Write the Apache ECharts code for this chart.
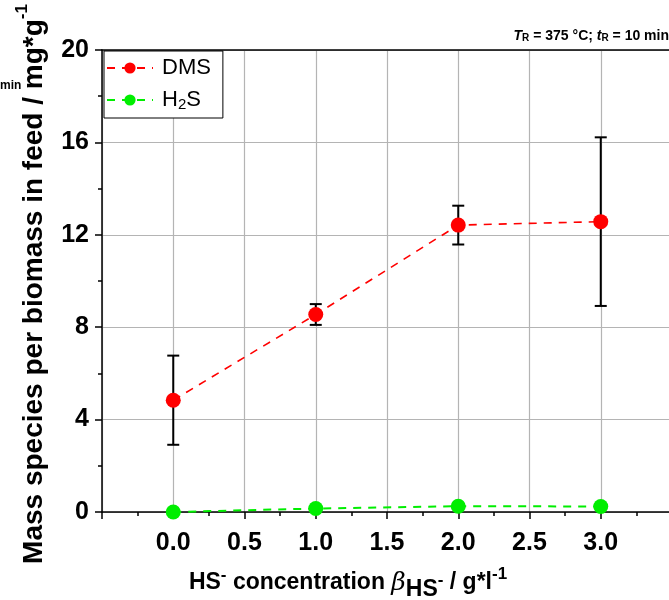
<!DOCTYPE html>
<html><head><meta charset="utf-8">
<script src="https://cdn.jsdelivr.net/npm/echarts@6/dist/echarts.min.js"></script>
<style>html,body{margin:0;padding:0;background:#fff;overflow:hidden}#c{width:675px;height:600px}</style>
</head><body><div id="c"></div>
<script>
const xValues = [0.0, 1.0, 2.0, 3.0];
const dmsValues = [4.84, 8.55, 12.42, 12.57];
const dmsErrors = [1.93, 0.45, 0.84, 3.65];
const h2sValues = [0.0, 0.15, 0.25, 0.24];
const xTickLabels = ['0.0', '0.5', '1.0', '1.5', '2.0', '2.5', '3.0'];
const yTickLabels = ['0', '4', '8', '12', '16', '20'];

const chart = echarts.init(document.getElementById('c'), null, {renderer: 'canvas'});
const F = 'Liberation Sans, Arial, sans-serif';

const errData = xValues.map((x, i) => [x, dmsValues[i] - dmsErrors[i], dmsValues[i] + dmsErrors[i]]);

const B = (size, extra) => Object.assign({fontFamily: F, fontWeight: 'bold', fontSize: size, fill: '#000', lineHeight: 28, verticalAlign: 'middle'}, extra || {});

chart.setOption({
  animation: false,
  backgroundColor: '#fff',
  grid: {left: 102, top: 50, right: 0, bottom: 88, containLabel: false},
  xAxis: [{
    type: 'value', min: -0.5, max: 3.5, interval: 0.5,
    axisLine: {show: true, onZero: false, lineStyle: {color: '#000', width: 1.5}},
    axisTick: {show: true, inside: false, length: 7, lineStyle: {color: '#000', width: 1.5}},
    minorTick: {show: true, splitNumber: 2, length: 4, lineStyle: {color: '#000', width: 1.5}},
    splitLine: {show: true, lineStyle: {color: '#b4b4b4', width: 1.2}},
    axisLabel: {
      margin: 19, color: '#000', fontFamily: F, fontWeight: 'bold', fontSize: 25,
      formatter: v => { const s = v.toFixed(1); return xTickLabels.indexOf(s) >= 0 ? s : ''; }
    }
  }, {
    type: 'value', position: 'top', min: -0.5, max: 3.5,
    axisLine: {show: true, onZero: false, lineStyle: {color: '#000', width: 1.5}},
    axisTick: {show: false}, axisLabel: {show: false}, splitLine: {show: false}
  }],
  yAxis: {
    type: 'value', min: 0, max: 20, interval: 4,
    axisLine: {show: true, onZero: false, lineStyle: {color: '#000', width: 1.5}},
    axisTick: {show: true, inside: false, length: 7, lineStyle: {color: '#000', width: 1.5}},
    minorTick: {show: true, splitNumber: 2, length: 4, lineStyle: {color: '#000', width: 1.5}},
    splitLine: {show: true, lineStyle: {color: '#b4b4b4', width: 1.2}},
    axisLabel: {
      margin: 13, color: '#000', fontFamily: F, fontWeight: 'bold', fontSize: 25,
      formatter: v => { const s = String(v); return yTickLabels.indexOf(s) >= 0 ? s : ''; }
    }
  },
  legend: {
    orient: 'vertical', left: 104, top: 51,
    backgroundColor: '#fff', borderColor: '#000', borderWidth: 1, borderRadius: 0,
    padding: [6, 12, 6, 2], itemGap: 8, itemWidth: 46, itemHeight: 14,
    data: ['DMS', 'H2S'],
    formatter: n => n === 'H2S' ? '{n|H}{s|2}{n|S}' : '{n|DMS}',
    textStyle: {
      color: '#000', fontFamily: F, fontSize: 22, padding: [0, 0, 0, 4],
      rich: {
        n: {fontFamily: F, fontSize: 22, color: '#000', lineHeight: 24},
        s: {fontFamily: F, fontSize: 15, color: '#000', verticalAlign: 'bottom', lineHeight: 24, padding: [10, 0, 0, 0]}
      }
    }
  },
  series: [{
    name: 'errDMS', type: 'custom', z: 1, silent: true,
    data: errData,
    renderItem: (params, api) => {
      const x = api.value(0);
      const lo = api.coord([x, api.value(1)]);
      const hi = api.coord([x, api.value(2)]);
      const w = 6;
      const st = {stroke: '#000', lineWidth: 2};
      return {type: 'group', children: [
        {type: 'line', shape: {x1: lo[0], y1: lo[1], x2: hi[0], y2: hi[1]}, style: st},
        {type: 'line', shape: {x1: lo[0] - w, y1: lo[1], x2: lo[0] + w, y2: lo[1]}, style: st},
        {type: 'line', shape: {x1: hi[0] - w, y1: hi[1], x2: hi[0] + w, y2: hi[1]}, style: st}
      ]};
    }
  }, {
    name: 'DMS', type: 'line', z: 3,
    data: xValues.map((x, i) => [x, dmsValues[i]]),
    symbol: 'circle', symbolSize: 15,
    itemStyle: {color: '#ff0000'},
    lineStyle: {color: '#ff0000', width: 1.6, type: [8, 7]}
  }, {
    name: 'H2S', type: 'line', z: 3,
    data: xValues.map((x, i) => [x, h2sValues[i]]),
    symbol: 'circle', symbolSize: 15,
    itemStyle: {color: '#00ee00'},
    lineStyle: {color: '#00ee00', width: 2, type: [8, 7]}
  }],
  graphic: [{
    type: 'text', x: 31, y: 284, rotation: Math.PI / 2,
    style: {
      text: '{b|Mass species per biomass in feed / mg*g}{sp|-1}',
      align: 'center', verticalAlign: 'middle',
      rich: {
        b: {fontFamily: F, fontWeight: 'bold', fontSize: 28, fill: '#000', lineHeight: 34, verticalAlign: 'bottom'},
        sp: {fontFamily: F, fontWeight: 'bold', fontSize: 17, fill: '#000', lineHeight: 34, verticalAlign: 'top'}
      }
    }
  }, {
    type: 'text', x: 0, y: 80,
    style: {text: 'min', fontFamily: F, fontWeight: 'bold', fontSize: 12, fill: '#000'}
  }, {
    type: 'text', x: 348, y: 583,
    style: {
      text: '{b|HS}{sp|-}{b| concentration }{be|β}{sb|HS}{sp2|-}{b| / g*l}{sp1|-1}',
      align: 'center', verticalAlign: 'middle',
      rich: {
        b: B(23),
        be: {fontFamily: 'DejaVu Serif, serif', fontStyle: 'italic', fontSize: 25, fill: '#000', lineHeight: 28, verticalAlign: 'middle'},
        sb: B(23, {padding: [14, 0, 0, 0]}),
        sp: B(17, {padding: [0, 0, 16, 0]}),
        sp2: B(17, {padding: [0, 0, 6, 0]}),
        sp1: B(17, {padding: [0, 0, 18, 0]})
      }
    }
  }, {
    type: 'text', right: 6, top: 29,
    style: {
      text: '{i|T}{s|R}{n| = 375 °C; }{i|t}{s|R}{n| = 10 min}',
      rich: {
        i: {fontFamily: F, fontWeight: 'bold', fontStyle: 'italic', fontSize: 14, fill: '#000', lineHeight: 16, verticalAlign: 'bottom'},
        n: {fontFamily: F, fontWeight: 'bold', fontSize: 14, fill: '#000', lineHeight: 16, verticalAlign: 'bottom'},
        s: {fontFamily: F, fontWeight: 'bold', fontSize: 10, fill: '#000', lineHeight: 16, verticalAlign: 'bottom', padding: [4, 0, 0, 0]}
      }
    }
  }]
});
</script>
</body></html>
